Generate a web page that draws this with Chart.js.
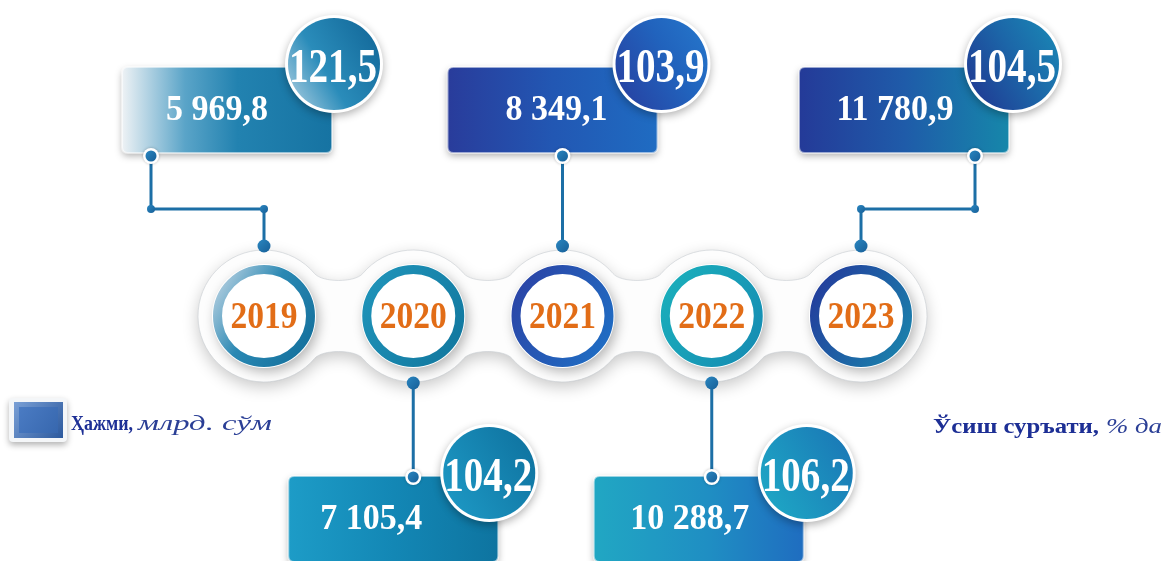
<!DOCTYPE html>
<html><head><meta charset="utf-8">
<script src="https://cdn.jsdelivr.net/npm/chart.js@4/dist/chart.umd.min.js"></script>
<style>html,body{margin:0;padding:0;background:#fff;} #wrap{width:1167px;height:561px;position:relative;}</style>
</head><body><div id="wrap"><canvas id="c" width="1167" height="561"></canvas></div>
<script>
// ---------------- data ----------------
const years = ['2019', '2020', '2021', '2022', '2023'];
const volume = [5969.8, 7105.4, 8349.1, 10288.7, 11780.9];   // Ҳажми, млрд. сўм
const growth = [121.5, 104.2, 103.9, 106.2, 104.5];          // Ўсиш суръати, % да
const volumeLabel = 'Ҳажми,';
const volumeUnit = 'млрд. сўм';
const growthLabel = 'Ўсиш суръати,';
const growthUnit = '% да';

// ---------------- layout (pixels) ----------------
const W = 1167, H = 561;
const X0 = 264, DX = 149.25;        // first year centre, spacing
const ROW_Y = 316;                   // year circles row
const side = ['top', 'bottom', 'top', 'bottom', 'top'];
const boxDx = [-37, -20, -10, -13, 43];
const boxW = 210, boxH = 86;
const boxTop = { top: 67, bottom: 476 };
const textDx = [-10, -22, 4, -9, -9];
const badgeDx = [70, 76, 99, 95, 152];
const badgeY = { top: 64, bottom: 473 };
const badgeR = 46;
const anchorDx = [-113, 0, 0, 0, 114];
const elbowY = 209;

// ---------------- styles ----------------
const boxStops = [
  [[0, '#eef2f5'], [0.3, '#5aa4c8'], [0.55, '#2282b0'], [1, '#1673a2']],
  [[0, '#1d9cc7'], [0.5, '#1387b5'], [1, '#0e74a0']],
  [[0, '#293c9b'], [0.5, '#2257b3'], [1, '#1f6cc2']],
  [[0, '#21a7c3'], [0.55, '#1f8ec3'], [1, '#1f6dc0']],
  [[0, '#243a98'], [0.5, '#1f5ba9'], [1, '#1687aa']]
];
const badgeStops = [
  [[0, '#9cc6dc'], [0.4, '#2a8cba'], [1, '#13699a']],
  [[0, '#1d98c4'], [1, '#0f73a0']],
  [[0, '#2742a2'], [0.6, '#2163bd'], [1, '#2574c9']],
  [[0, '#1ea7c5'], [1, '#1a78b6']],
  [[0, '#203a93'], [0.55, '#1c66a8'], [1, '#1a85b4']]
];
const ringStops = [
  [[0, '#b4cfe0'], [0.45, '#2a88b3'], [1, '#14709c']],
  [[0, '#1f93b9'], [1, '#12789f']],
  [[0, '#2b44a6'], [1, '#1f6ec4']],
  [[0, '#1aaebb'], [1, '#168db3']],
  [[0, '#233c9c'], [1, '#1a82ac']]
];
const ringSolid = ['#2a88b3', '#1a86ad', '#2559b5', '#189fb8', '#1f5fa4'];
const LINE = '#1c6fa6';
const YEAR_COLOR = '#e26d17';

function fmt(v) {
  const [i, d] = v.toFixed(1).split('.');
  return i.replace(/\B(?=(\d{3})+(?!\d))/g, ' ') + ',' + d;
}
function grad(ctx, x0, y0, x1, y1, stops) {
  const g = ctx.createLinearGradient(x0, y0, x1, y1);
  stops.forEach(s => g.addColorStop(s[0], s[1]));
  return g;
}
function rr(ctx, x, y, w, h, r) {
  ctx.beginPath();
  ctx.moveTo(x + r, y); ctx.lineTo(x + w - r, y); ctx.quadraticCurveTo(x + w, y, x + w, y + r);
  ctx.lineTo(x + w, y + h - r); ctx.quadraticCurveTo(x + w, y + h, x + w - r, y + h);
  ctx.lineTo(x + r, y + h); ctx.quadraticCurveTo(x, y + h, x, y + h - r);
  ctx.lineTo(x, y + r); ctx.quadraticCurveTo(x, y, x + r, y); ctx.closePath();
}
function bandPath(ctx, xs, cy, R, k) {
  const a = 40 * Math.PI / 180, c = Math.cos(a), s = Math.sin(a), n = xs.length;
  ctx.beginPath();
  ctx.arc(xs[0], cy, R, Math.PI - a, 2 * Math.PI - a, false);
  for (let i = 0; i < n - 1; i++) {
    const p0x = xs[i] + R * c, p0y = cy - R * s, p3x = xs[i + 1] - R * c, p3y = cy - R * s;
    ctx.bezierCurveTo(p0x + k * s, p0y + k * c, p3x - k * s, p3y + k * c, p3x, p3y);
    if (i + 1 < n - 1) ctx.arc(xs[i + 1], cy, R, Math.PI + a, 2 * Math.PI - a, false);
  }
  ctx.arc(xs[n - 1], cy, R, Math.PI + a, 3 * Math.PI - a, false);
  for (let i = n - 1; i > 0; i--) {
    const p0x = xs[i] - R * c, p0y = cy + R * s, p3x = xs[i - 1] + R * c, p3y = cy + R * s;
    ctx.bezierCurveTo(p0x - k * s, p0y - k * c, p3x + k * s, p3y - k * c, p3x, p3y);
    if (i - 1 > 0) ctx.arc(xs[i - 1], cy, R, a, Math.PI - a, false);
  }
  ctx.arc(xs[0], cy, R, a, Math.PI - a, false);
  ctx.closePath();
}
function stretchText(ctx, t, x, cy, size, sy, color, maxW) {
  ctx.save();
  ctx.font = 'bold ' + size + 'px "Liberation Serif", "Times New Roman", serif';
  ctx.fillStyle = color;
  ctx.textAlign = 'center';
  ctx.textBaseline = 'alphabetic';
  let sx = 1;
  if (maxW) { const w = ctx.measureText(t).width; sx = maxW / w; }
  ctx.translate(x, cy + 0.33 * size * sy);
  ctx.scale(sx, sy);
  ctx.fillText(t, 0, 0);
  ctx.restore();
}
function fitText(ctx, t, x, base, font, color, targetW) {
  ctx.save();
  ctx.font = font; ctx.fillStyle = color; ctx.textAlign = 'left'; ctx.textBaseline = 'alphabetic';
  const w = ctx.measureText(t).width;
  ctx.translate(x, base); ctx.scale(targetW / w, 1);
  ctx.fillText(t, 0, 0);
  ctx.restore();
}
function dot(ctx, x, y, r, ring) {
  ctx.save();
  if (ring) {
    ctx.shadowColor = 'rgba(0,0,0,0.25)'; ctx.shadowBlur = 3;
    ctx.beginPath(); ctx.arc(x, y, r + ring, 0, Math.PI * 2); ctx.fillStyle = '#fff'; ctx.fill();
    ctx.shadowColor = 'transparent';
  }
  ctx.beginPath(); ctx.arc(x, y, r, 0, Math.PI * 2);
  ctx.fillStyle = grad(ctx, x - r, y - r, x + r, y + r, [[0, '#2a86c0'], [1, '#175f98']]);
  ctx.fill();
  ctx.restore();
}

const infographic = {
  id: 'infographic',
  beforeDatasetsDraw(chart) {
    const ctx = chart.ctx, sx = chart.scales.x, sy = chart.scales.y;
    const xs = years.map((_, i) => sx.getPixelForValue(i));
    const cy = sy.getPixelForValue(ROW_Y);

    // white wavy band with soft shadow
    ctx.save();
    bandPath(ctx, xs, cy, 66, 12);
    ctx.shadowColor = 'rgba(0,0,0,0.22)'; ctx.shadowBlur = 16; ctx.shadowOffsetY = 5;
    ctx.fillStyle = '#fdfdfd'; ctx.fill();
    ctx.shadowColor = 'transparent';
    ctx.strokeStyle = 'rgba(200,205,210,0.6)'; ctx.lineWidth = 1; ctx.stroke();
    ctx.restore();
    // shadow under rings
    xs.forEach(x => {
      ctx.save();
      ctx.beginPath(); ctx.arc(x, cy, 52, 0, Math.PI * 2);
      ctx.shadowColor = 'rgba(0,0,0,0.28)'; ctx.shadowBlur = 12; ctx.shadowOffsetX = 3; ctx.shadowOffsetY = 4;
      ctx.fillStyle = '#fff'; ctx.fill();
      ctx.restore();
    });

    // connectors
    ctx.save();
    ctx.strokeStyle = LINE; ctx.lineWidth = 3; ctx.lineCap = 'round';
    years.forEach((_, i) => {
      const x = xs[i], top = side[i] === 'top';
      const ax = x + anchorDx[i];
      const boxEdge = top ? boxTop.top + boxH + 3 : boxTop.bottom + 2;
      const ringEdge = top ? cy - 70 : cy + 67;
      ctx.beginPath();
      if (ax !== x) {
        ctx.moveTo(ax, boxEdge); ctx.lineTo(ax, elbowY); ctx.lineTo(x, elbowY); ctx.lineTo(x, ringEdge);
      } else {
        ctx.moveTo(x, boxEdge); ctx.lineTo(x, ringEdge);
      }
      ctx.stroke();
      if (ax !== x) { dot(ctx, ax, elbowY, 4); dot(ctx, x, elbowY, 4); }
      dot(ctx, x, ringEdge, 6.5);
    });
    ctx.restore();

    // boxes
    years.forEach((_, i) => {
      const x = xs[i] + boxDx[i] - boxW / 2, y = boxTop[side[i]];
      ctx.save();
      rr(ctx, x, y, boxW, boxH, 6);
      ctx.shadowColor = 'rgba(0,0,0,0.3)'; ctx.shadowBlur = 7; ctx.shadowOffsetY = 3;
      ctx.fillStyle = grad(ctx, x, 0, x + boxW, 0, boxStops[i]); ctx.fill();
      ctx.shadowColor = 'transparent';
      ctx.strokeStyle = 'rgba(255,255,255,0.55)'; ctx.lineWidth = 2; ctx.stroke();
      ctx.restore();
      stretchText(ctx, fmt(volume[i]), xs[i] + boxDx[i] + textDx[i], y + boxH / 2 - 2, 34, 1.06, '#ffffff');
    });
    // box attachment dots
    years.forEach((_, i) => {
      const top = side[i] === 'top', ax = xs[i] + anchorDx[i];
      const yy = top ? boxTop.top + boxH + 3 : boxTop.bottom + 1;
      dot(ctx, ax, yy, 5.5, 2.5);
    });

    // growth badges
    years.forEach((_, i) => {
      const bx = xs[i] + badgeDx[i], by = badgeY[side[i]];
      ctx.save();
      ctx.beginPath(); ctx.arc(bx, by, badgeR + 3, 0, Math.PI * 2);
      ctx.shadowColor = 'rgba(0,0,0,0.3)'; ctx.shadowBlur = 8; ctx.shadowOffsetY = 3;
      ctx.fillStyle = '#ffffff'; ctx.fill();
      ctx.shadowColor = 'transparent';
      ctx.beginPath(); ctx.arc(bx, by, badgeR, 0, Math.PI * 2);
      ctx.fillStyle = grad(ctx, bx - badgeR, by + badgeR * 0.6, bx + badgeR, by - badgeR * 0.6, badgeStops[i]);
      ctx.fill();
      ctx.restore();
      stretchText(ctx, fmt(growth[i]), bx - 1, by + 2, 40, 1.2, '#ffffff', 88);
    });

    // legend
    ctx.save();
    rr(ctx, 9, 398, 58, 44, 4);
    ctx.shadowColor = 'rgba(0,0,0,0.3)'; ctx.shadowBlur = 6; ctx.shadowOffsetY = 3;
    ctx.fillStyle = '#f4f6f8'; ctx.fill();
    ctx.shadowColor = 'transparent';
    ctx.fillStyle = grad(ctx, 14, 402, 62, 438, [[0, '#7aa0d6'], [1, '#2d5a9e']]);
    ctx.fillRect(14, 402, 49, 36);
    ctx.fillStyle = grad(ctx, 18, 406, 58, 434, [[0, '#4b7cc4'], [1, '#3767ae']]);
    ctx.fillRect(19, 407, 39, 26);
    ctx.restore();
    fitText(ctx, volumeLabel, 71, 430, 'bold 22px "Liberation Serif", serif', '#1d2f95', 62);
    fitText(ctx, volumeUnit, 138, 430, 'italic 22px "Liberation Serif", serif', '#2b3f96', 134);
    fitText(ctx, growthLabel, 933, 433, 'bold 22px "Liberation Serif", serif', '#1d2f95', 166);
    fitText(ctx, growthUnit, 1106, 433, 'italic 22px "Liberation Serif", serif', '#2b3f96', 56);
  },
  afterDatasetsDraw(chart) {
    const ctx = chart.ctx, sx = chart.scales.x, sy = chart.scales.y;
    years.forEach((yr, i) => {
      stretchText(ctx, yr, sx.getPixelForValue(i), sy.getPixelForValue(ROW_Y), 33, 1.12, YEAR_COLOR, 67);
    });
  }
};

new Chart(document.getElementById('c'), {
  type: 'scatter',
  data: {
    datasets: [{
      label: 'years',
      data: years.map((_, i) => ({ x: i, y: ROW_Y })),
      pointRadius: 46.5,
      pointHoverRadius: 46.5,
      borderWidth: 9,
      backgroundColor: '#ffffff',
      clip: false,
      borderColor: (c) => {
        const chart = c.chart;
        const i = c.dataIndex;
        if (c.type !== 'data' || i === undefined || !chart.scales || !chart.scales.x || !chart.scales.y) return ringSolid[0];
        const x = chart.scales.x.getPixelForValue(i);
        const y = chart.scales.y.getPixelForValue(ROW_Y);
        if (!isFinite(x) || !isFinite(y)) return ringSolid[i] || ringSolid[0];
        return grad(chart.ctx, x - 50, y - 30, x + 50, y + 30, ringStops[i]);
      }
    }]
  },
  options: {
    responsive: false,
    animation: false,
    events: [],
    layout: { padding: 0, autoPadding: false },
    scales: {
      x: { type: 'linear', min: -X0 / DX, max: (W - X0) / DX, display: false },
      y: { type: 'linear', min: 0, max: H, reverse: true, display: false }
    },
    plugins: { legend: { display: false }, tooltip: { enabled: false } }
  },
  plugins: [infographic]
});
</script>
</body></html>
